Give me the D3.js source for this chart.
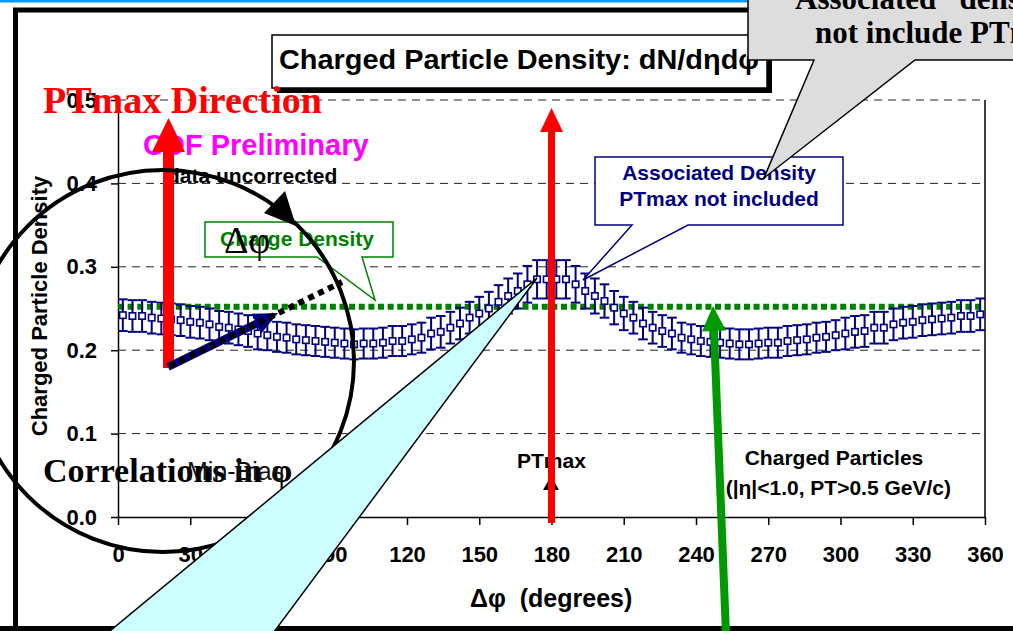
<!DOCTYPE html>
<html><head><meta charset="utf-8">
<script src="https://cdn.jsdelivr.net/npm/d3@7/dist/d3.min.js"></script>
<style>
html,body{margin:0;padding:0;background:#fff;}
svg{display:block;}
text{font-family:"Liberation Sans",Arial,sans-serif;}
.serif{font-family:"Liberation Serif","Times New Roman",serif;}
</style>
</head><body>
<svg id="chart" width="1013" height="631"></svg>
<script>
// ---- data ----
const dphi = [2,6,10,14,18,22,26,30,34,38,42,46,50,54,58,62,66,70,74,78,82,86,
  90,94,98,102,106,110,114,118,122,126,130,134,138,142,146,150,154,158,162,166,170,174,178,
  182,186,190,194,198,202,206,210,214,218,222,226,230,234,238,242,246,250,254,258,262,266,270,
  274,278,282,286,290,294,298,302,306,310,314,318,322,326,330,334,338,342,346,350,354,358];
const density = [0.242,0.241,0.241,0.239,0.238,0.237,0.236,0.234,0.233,0.231,0.228,0.227,0.225,0.223,0.220,0.218,0.216,0.215,0.213,0.212,0.211,0.210,
  0.209,0.208,0.207,0.208,0.208,0.209,0.211,0.211,0.213,0.215,0.220,0.222,0.227,0.232,0.239,0.244,0.250,0.258,0.265,0.271,0.279,0.285,0.285,
  0.285,0.285,0.279,0.271,0.265,0.259,0.251,0.244,0.239,0.232,0.227,0.223,0.220,0.215,0.213,0.211,0.210,0.209,0.208,0.207,0.207,0.208,0.209,
  0.209,0.211,0.212,0.213,0.215,0.216,0.218,0.220,0.222,0.223,0.227,0.227,0.231,0.233,0.234,0.236,0.237,0.238,0.239,0.241,0.241,0.243];
const densityErr = [0.019,0.019,0.019,0.019,0.019,0.019,0.019,0.019,0.019,0.019,0.019,0.019,0.019,0.019,0.019,0.018,0.018,0.018,0.018,0.018,0.018,0.018,
  0.018,0.018,0.018,0.018,0.018,0.018,0.018,0.018,0.018,0.018,0.019,0.019,0.019,0.019,0.019,0.020,0.020,0.020,0.021,0.021,0.022,0.023,0.023,
  0.023,0.023,0.022,0.021,0.021,0.020,0.020,0.020,0.019,0.019,0.019,0.019,0.019,0.018,0.018,0.018,0.018,0.018,0.018,0.018,0.018,0.018,0.018,
  0.018,0.018,0.018,0.018,0.018,0.018,0.018,0.019,0.019,0.019,0.019,0.019,0.019,0.019,0.019,0.019,0.019,0.019,0.019,0.019,0.019,0.019];
const chargeDensity = 0.252;
const xTicks = [0,30,60,90,120,150,180,210,240,270,300,330,360];
const yTicks = [0.0,0.1,0.2,0.3,0.4,0.5];
const gridValues = [0.1,0.2,0.3,0.4,0.5];

const svg = d3.select("#chart");
const navy = "#000080";

// slide decoration: blue rule + thick frame
svg.append("line").attr("x1",0).attr("x2",1013).attr("y1",1).attr("y2",1)
  .attr("stroke","#0099ff").attr("stroke-width",3);
svg.append("path").attr("d","M15.5,640 V10 H1030 M0,628.5 H1030")
  .attr("fill","none").attr("stroke","#000").attr("stroke-width",5);

// scales
const x = d3.scaleLinear().domain([0,360]).range([118,985]);
const y = d3.scaleLinear().domain([0,0.5]).range([517,100]);

const plot = svg.append("g");
// grid
plot.selectAll("line.grid").data(gridValues).join("line")
  .attr("x1",x(0)).attr("x2",x(360)).attr("y1",d=>y(d)).attr("y2",d=>y(d))
  .attr("stroke","#222").attr("stroke-width",1).attr("stroke-dasharray","8,6");
// right border
plot.append("line").attr("x1",x(360)).attr("x2",x(360)).attr("y1",y(0.5)).attr("y2",y(0))
  .attr("stroke","#000").attr("stroke-width",1.5);

// axes
const xAxis = plot.append("g").attr("transform",`translate(0,${y(0)})`)
  .call(d3.axisBottom(x).tickValues(xTicks).tickFormat(d3.format("d")).tickSize(8).tickSizeOuter(0).tickPadding(21));
const yAxis = plot.append("g").attr("transform",`translate(${x(0)},0)`)
  .call(d3.axisLeft(y).tickValues(yTicks).tickFormat(d3.format(".1f")).tickSize(7).tickSizeOuter(0).tickPadding(14));
[xAxis,yAxis].forEach(a=>{
  a.selectAll("path,line").attr("stroke","#000").attr("stroke-width",1.5);
  a.selectAll("text").attr("font-size",22).attr("font-weight","bold").attr("fill","#000")
    .style("font-family","'Liberation Sans',Arial,sans-serif");
});

// green charge density line
plot.append("line").attr("x1",x(0)).attr("x2",x(360))
  .attr("y1",y(chargeDensity)).attr("y2",y(chargeDensity))
  .attr("stroke","#008000").attr("stroke-width",6).attr("stroke-dasharray","6,3.63");

// error bars + markers
const pts = dphi.map((a,i)=>({a, v:density[i], e:densityErr[i]}));
const capW = (x(4)-x(0))/2;
const eb = plot.append("g").attr("stroke",navy).attr("stroke-width",2).attr("fill","none");
eb.selectAll("line.v").data(pts).join("line")
  .attr("x1",d=>x(d.a)).attr("x2",d=>x(d.a)).attr("y1",d=>y(d.v-d.e)).attr("y2",d=>y(d.v+d.e));
eb.selectAll("line.t").data(pts).join("line")
  .attr("x1",d=>x(d.a)-capW).attr("x2",d=>x(d.a)+capW).attr("y1",d=>y(d.v+d.e)).attr("y2",d=>y(d.v+d.e));
eb.selectAll("line.b").data(pts).join("line")
  .attr("x1",d=>x(d.a)-capW).attr("x2",d=>x(d.a)+capW).attr("y1",d=>y(d.v-d.e)).attr("y2",d=>y(d.v-d.e));
plot.selectAll("rect.m").data(pts).join("rect")
  .attr("x",d=>x(d.a)-3.2).attr("y",d=>y(d.v)-3.2).attr("width",6.4).attr("height",6.4)
  .attr("fill","#fff").attr("stroke",navy).attr("stroke-width",1.6);

// axis titles
svg.append("text").attr("x",470).attr("y",607).attr("font-size",25).attr("font-weight","bold")
  .text("Δφ  (degrees)").attr("xml:space","preserve");
svg.append("text").attr("transform","translate(47,306) rotate(-90)").attr("text-anchor","middle")
  .attr("font-size",22).attr("font-weight","bold").text("Charged Particle Density");

// title box
svg.append("rect").attr("x",277).attr("y",40).attr("width",495).attr("height",53).attr("fill","#000");
svg.append("rect").attr("x",272).attr("y",35).attr("width",495).attr("height",53)
  .attr("fill","#fff").attr("stroke","#000").attr("stroke-width",1.5);
svg.append("text").attr("x",279).attr("y",69).attr("font-size",27).attr("font-weight","bold")
  .attr("textLength",480).attr("lengthAdjust","spacingAndGlyphs")
  .text("Charged Particle Density: dN/dηdφ");

// Associated density callout
svg.append("path").attr("d","M595,157 H843 V225 H688 L583,280 L632,225 H595 Z")
  .attr("fill","#fff").attr("stroke",navy).attr("stroke-width",1.5);
svg.append("text").attr("x",719).attr("y",180).attr("text-anchor","middle").attr("font-size",21)
  .attr("font-weight","bold").attr("fill",navy).text("Associated Density");
svg.append("text").attr("x",719).attr("y",206).attr("text-anchor","middle").attr("font-size",21)
  .attr("font-weight","bold").attr("fill",navy).text("PTmax not included");

// annotation texts
svg.append("text").attr("x",143).attr("y",155).attr("font-size",29).attr("font-weight","bold")
  .attr("fill","#ff00ff").text("CDF Preliminary");
svg.append("text").attr("x",167).attr("y",183).attr("font-size",21).attr("font-weight","bold")
  .text("data uncorrected");
svg.append("text").attr("x",517).attr("y",468).attr("font-size",21).attr("font-weight","bold").text("PTmax");
svg.append("path").attr("d","M543,490 L559,490 L551,476 Z").attr("fill","#000");
svg.append("text").attr("x",834).attr("y",465).attr("text-anchor","middle").attr("font-size",21)
  .attr("font-weight","bold").text("Charged Particles");
svg.append("text").attr("x",951).attr("y",495).attr("text-anchor","end").attr("font-size",21)
  .attr("font-weight","bold").text("(|η|<1.0, PT>0.5 GeV/c)");

// Charge density callout
svg.append("path").attr("d","M205,222 H393 V257 H362 L375,300 L317,257 H205 Z")
  .attr("fill","#fff").attr("stroke","#008000").attr("stroke-width",1.5);
svg.append("text").attr("x",220).attr("y",246).attr("font-size",21).attr("font-weight","bold")
  .attr("fill","#008000").text("Charge Density");
svg.append("text").attr("class","serif").attr("x",224).attr("y",253).attr("font-size",38)
  .text("Δφ");

// arrows
function arrow(x0,y0,x1,y1,w,hl,hw,color){
  const dx=x1-x0, dy=y1-y0, L=Math.hypot(dx,dy), ux=dx/L, uy=dy/L, nx=-uy, ny=ux;
  const bx=x1-ux*hl, by=y1-uy*hl;
  const p=[[x0+nx*w/2,y0+ny*w/2],[bx+nx*w/2,by+ny*w/2],[bx+nx*hw,by+ny*hw],[x1,y1],
           [bx-nx*hw,by-ny*hw],[bx-nx*w/2,by-ny*w/2],[x0-nx*w/2,y0-ny*w/2]];
  svg.append("path").attr("d","M"+p.map(q=>q.join(",")).join("L")+"Z").attr("fill",color);
}
arrow(168.5,368,168.5,118,11,34,16.5,"#ff0000");
arrow(x(180),523,x(180),108,7,24,11.5,"#ff0000");

svg.append("text").attr("class","serif").attr("x",43).attr("y",113).attr("font-size",38)
  .attr("font-weight","bold").attr("fill","#ff0000").text("PTmax Direction");

// navy arrow + black dotted line
arrow(168,367,278,313,8,24,11,navy);
svg.append("line").attr("x1",170).attr("y1",366).attr("x2",342).attr("y2",282)
  .attr("stroke","#000").attr("stroke-width",6).attr("stroke-dasharray","6,5");

// circle with arrowhead
svg.append("circle").attr("cx",163).attr("cy",361).attr("r",191)
  .attr("fill","none").attr("stroke","#000").attr("stroke-width",4);
svg.append("path").attr("d","M296,226 L264,213 L285,191 Z").attr("fill","#000");

svg.append("text").attr("class","serif").attr("x",43).attr("y",482).attr("font-size",34)
  .attr("font-weight","bold").text("Correlations in φ");
svg.append("text").attr("x",187).attr("y",480).attr("font-size",25)
  .attr("fill","#111").text("Min-Bias");

// green arrow
arrow(727,660,713,306,8,25,12,"#009900");

// cyan callout (from below)
svg.append("path").attr("d","M537,278 L99,640 L268,640 Z")
  .attr("fill","#ccffff").attr("stroke","#000").attr("stroke-width",1.5);

// grey callout (top right)
svg.append("path").attr("d","M748,-5 V60 H814 L764,178 L915,60 H1030 V-5 Z")
  .attr("fill","#dddddd").attr("stroke","#000").attr("stroke-width",1.5);
svg.append("text").attr("class","serif").attr("x",795).attr("y",9).attr("font-size",31)
  .attr("font-weight","bold").text("Associated “density” does");
svg.append("text").attr("class","serif").attr("x",815).attr("y",43).attr("font-size",31)
  .attr("font-weight","bold").text("not include PTmax");
</script>
</body></html>
